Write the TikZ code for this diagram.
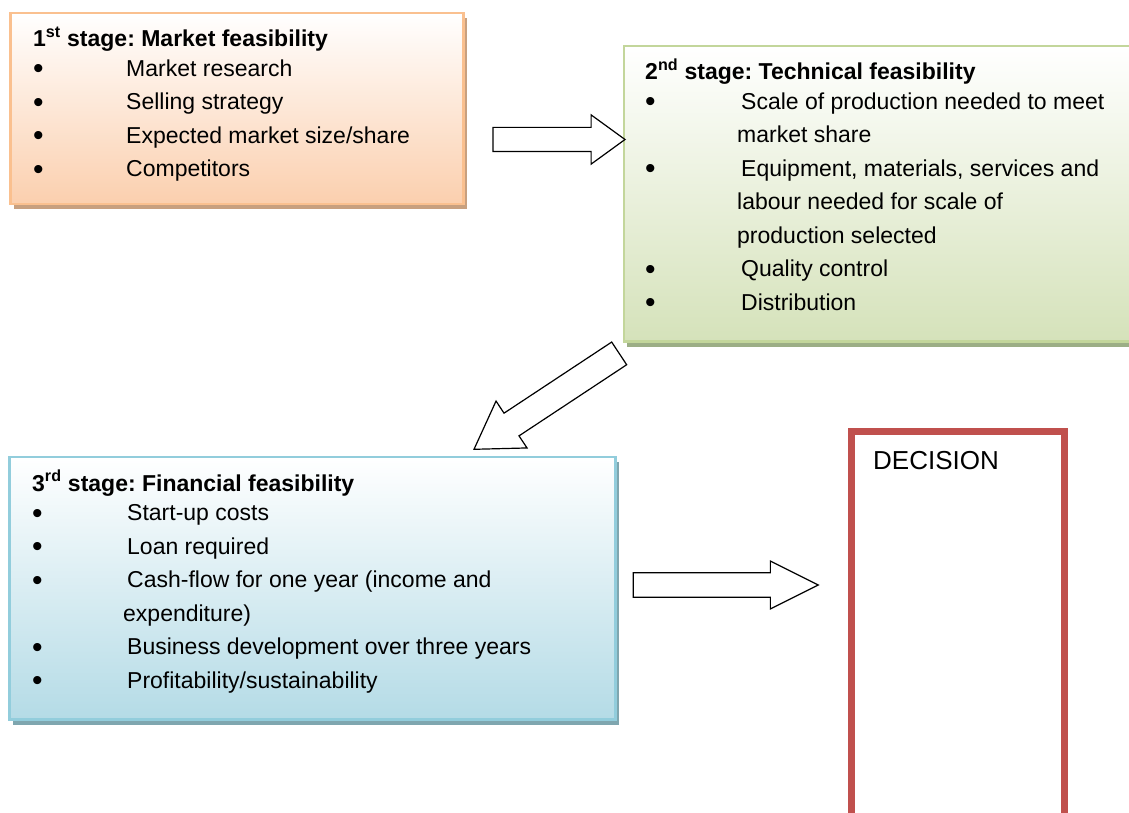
\documentclass[tikz,border=0pt]{standalone}
\usepackage{fontspec}
\setmainfont{Liberation Sans}
\usetikzlibrary{shapes.arrows,shadows}

\definecolor{orangeline}{HTML}{FAC08F}
\definecolor{orangefill}{HTML}{FBCFAE}
\definecolor{orangeshade}{HTML}{C8A07F}
\definecolor{greenline}{HTML}{C3D69B}
\definecolor{greenfill}{HTML}{D5E2BA}
\definecolor{greenshade}{HTML}{9CAE86}
\definecolor{blueline}{HTML}{92CDDC}
\definecolor{bluefill}{HTML}{B4DBE6}
\definecolor{blueshade}{HTML}{7FA6AF}
\definecolor{decred}{HTML}{C0504D}

\newcommand{\bul}{\raisebox{-2.5pt}{\fontsize{30}{30}\selectfont\textbullet}}

\begin{document}
\frenchspacing
\begin{tikzpicture}[x=1pt, y=-1pt,
	stage/.style={line width=2.5pt, inner sep=0pt, outer sep=0pt, anchor=north west, top color=white},
	list/.style={anchor=base west, inner sep=0pt, font=\fontsize{23}{33.5}\selectfont},
	block/.style={single arrow, draw=black, fill=white, line width=1.2pt, anchor=tip,
		inner xsep=0pt, outer sep=0pt, single arrow head indent=0pt}]
\useasboundingbox (0,0) rectangle (1129,813);
\clip (0,0) rectangle (1129,813);

% the three stages
\node[stage, draw=orangeline, bottom color=orangefill,
	drop shadow={shadow xshift=3pt, shadow yshift=-5pt, fill=orangeshade, opacity=1},
	minimum width=453pt, minimum height=191pt] (s1) at (10.5,13) {};
\node[stage, draw=greenline, bottom color=greenfill,
	drop shadow={shadow xshift=3pt, shadow yshift=-5pt, fill=greenshade, opacity=1},
	minimum width=510pt, minimum height=295.5pt] (s2) at (624,46) {};
\node[stage, draw=blueline, bottom color=bluefill,
	drop shadow={shadow xshift=3pt, shadow yshift=-5pt, fill=blueshade, opacity=1},
	minimum width=606pt, minimum height=262.5pt] (s3) at (9.5,457) {};

\node[list] (t1) at (33,47) {\begin{tabular}[t]{@{}p{93pt}@{}l@{}}
	\multicolumn{2}{@{}l@{}}{\bfseries 1\textsuperscript{st} stage: Market feasibility}\\[-4pt]
	\bul & Market research\\
	\bul & Selling strategy\\
	\bul & Expected market size/share\\
	\bul & Competitors
\end{tabular}};

\node[list] (t2) at (645,80) {\begin{tabular}[t]{@{}p{96pt}@{}l@{}}
	\multicolumn{2}{@{}l@{}}{\bfseries 2\textsuperscript{nd} stage: Technical feasibility}\\[-4pt]
	\bul & Scale of production needed to meet\\
	 & \hspace*{-4pt}market share\\
	\bul & Equipment, materials, services and\\
	 & \hspace*{-4pt}labour needed for scale of\\
	 & \hspace*{-4pt}production selected\\
	\bul & Quality control\\
	\bul & Distribution
\end{tabular}};

\node[list] (t3) at (32,491) {\begin{tabular}[t]{@{}p{95pt}@{}l@{}}
	\multicolumn{2}{@{}l@{}}{\bfseries 3\textsuperscript{rd} stage: Financial feasibility}\\[-4pt]
	\bul & Start-up costs\\
	\bul & Loan required\\
	\bul & Cash-flow for one year (income and\\
	 & \hspace*{-4pt}expenditure)\\
	\bul & Business development over three years\\
	\bul & Profitability/sustainability
\end{tabular}};

% decision
\node[draw=decred, line width=7pt, inner sep=0pt, outer sep=0pt, anchor=north west,
	minimum width=213pt, minimum height=420pt] (dec) at (851.5,431) {};
\node[anchor=base west, inner sep=0pt, font=\fontsize{26}{30}\selectfont] (dtext) at (873,469) {DECISION};

% block arrows
\node[block, minimum height=132pt, inner ysep=11.5pt, single arrow head extend=12.5pt,
	single arrow tip angle=72] (a12) at (625,139.5) {};
\node[block, minimum height=174pt, inner ysep=13pt, single arrow head extend=14.5pt,
	single arrow tip angle=64, rotate=213.45] (a23) at (474,449.3) {};
\node[block, minimum height=185pt, inner ysep=11.7pt, single arrow head extend=11.6pt,
	single arrow tip angle=53] (a3d) at (818.3,585) {};
\end{tikzpicture}
\end{document}
